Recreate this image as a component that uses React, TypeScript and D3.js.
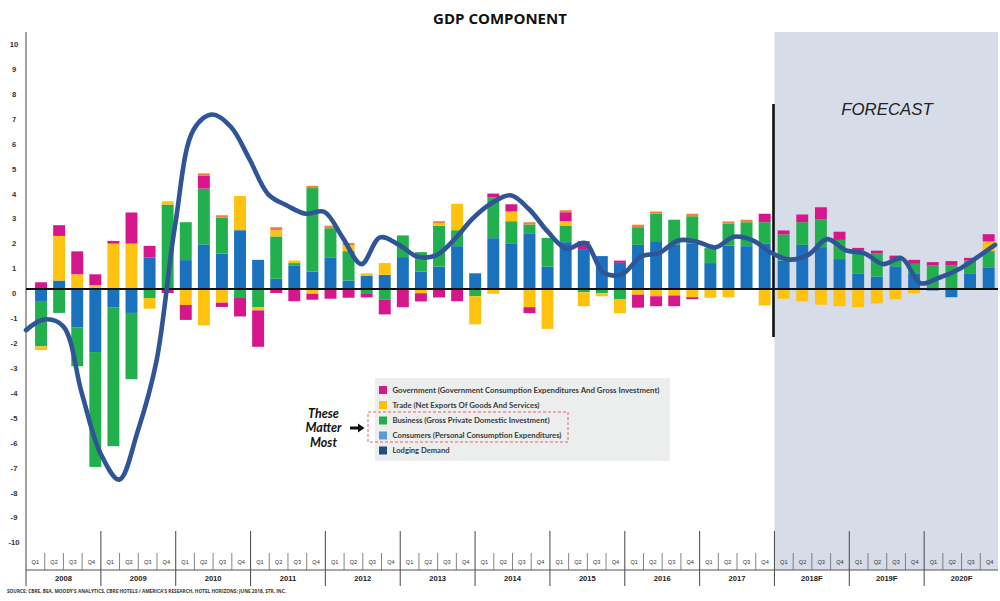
import React from "react";
import * as d3 from "d3";

// ---------- DATA ----------
const years = ["2008", "2009", "2010", "2011", "2012", "2013", "2014", "2015", "2016", "2017", "2018F", "2019F", "2020F"];
const quarters = ["Q1", "Q2", "Q3", "Q4"];
const yTicks = [-10, -9, -8, -7, -6, -5, -4, -3, -2, -1, 0, 1, 2, 3, 4, 5, 6, 7, 8, 9, 10];

// bars as drawn in the picture: 41 historical bars, then 12 forecast bars
const HIST_BARS = 41;

const consumers = [
  -0.48, 0.34, -1.55, -2.53, -0.73, -0.96, 1.27, 0, 1.16, 1.79, 1.42, 2.36, 1.17, 0.41, 0.93, 0.7, 1.25, 0.34, 0.54, 0.57, 1.28,
  0.7, 0.9, 1.72, 0.63, 2.04, 1.81, 2.21, 0.9, 1.88, 1.57, 1.32, 1.05, 1.77, 1.92, 1.77, 1.81, 1.04, 1.75, 1.72, 1.81,
  1.14, 1.77, 1.68, 1.2, 0.61, 0.5, 0.91, 0.63, -0.06, -0.33, 0.63, 0.87,
];
const business = [
  -1.82, -0.96, -1.55, -4.61, -5.58, -2.66, -0.36, 3.39, 1.52, 2.24, 1.44, -0.36, -0.74, 1.7, 0.11, 3.35, 1.19, 1.18, -0.17, -0.43, 0.87,
  0.78, 1.64, 0.64, -0.29, 1.64, 0.91, 0.38, 1.15, 0.67, -0.13, -0.17, -0.42, 0.71, 1.1, 1.01, 1.11, 0.6, 0.87, 0.96, 0.87,
  1.05, 0.91, 1.11, 0.77, 0.94, 0.94, 0.3, 0.38, 0.94, 0.94, 0.51, 0.65,
];
const trade = [
  -0.15, 1.79, 0.59, 0.16, 1.82, 1.82, -0.43, 0.13, -0.64, -1.46, -0.55, 1.37, -0.12, 0.24, 0.1, -0.19, 0, 0.23, 0.09, 0.47, 0,
  -0.17, 0.09, 1.06, -1.13, -0.19, 0.39, -0.73, -1.6, 0.17, -0.56, -0.12, -0.55, -0.23, -0.29, -0.26, -0.33, -0.35, -0.33, 0, -0.66,
  -0.39, -0.5, -0.63, -0.69, -0.73, -0.58, -0.41, -0.17, 0, 0, 0, 0.39,
];
const government = [
  0.27, 0.43, 0.92, 0.43, 0.11, 1.25, 0.46, -0.16, -0.6, 0.51, -0.17, -0.74, -1.46, -0.16, -0.49, -0.24, -0.39, -0.35, -0.17, -0.59, -0.73,
  -0.33, -0.34, -0.49, 0, 0.15, 0.29, -0.24, 0, 0.36, 0.35, 0, 0.09, -0.52, -0.4, -0.43, -0.08, 0, 0, 0, 0.34,
  0.16, 0.31, 0.49, 0.33, 0.1, 0.1, 0.13, 0.16, 0.14, 0.18, 0.11, 0.29,
];
const other = [
  0, 0, 0, 0, 0, 0, 0, 0, 0, 0.1, 0.1, 0, 0, 0.13, 0, 0.09, 0.1, 0.1, 0, 0, 0,
  0, 0.09, 0, 0, 0, 0, 0.09, 0, 0.08, 0, 0, 0, 0.1, 0.09, 0, 0.1, 0, 0.09, 0.1, 0,
  0, 0, 0, 0, 0, 0, 0, 0, 0, 0, 0, 0,
];
const lodgingDemand = [
  -1.65, -1.22, -1.5, -4.2, -6.6, -7.65, -5.7, -2.9, 2.55, 6.4, 7.0, 6.5, 5.2, 3.8, 3.35, 3.02, 3.1, 2.05, 1.0, 2.07, 1.78,
  1.3, 1.35, 2.0, 2.85, 3.45, 3.76, 3.2, 2.3, 1.62, 1.85, 0.65, 0.6, 1.3, 1.45, 1.95, 1.9, 1.67, 2.1, 1.95, 1.45,
  1.18, 1.38, 2.0, 1.55, 1.43, 1.0, 1.23, 0.23, 0.45, 0.77, 1.25, 1.77,
];

const seriesKeys = ["consumers", "business", "trade", "government", "other"];
const seriesColors: Record<string, string> = {
  consumers: "#1a72bf",
  business: "#22b04e",
  trade: "#ffc20e",
  government: "#d6168b",
  other: "#f0803a",
};

const legendLabels = [
  "Government (Government Consumption Expenditures And Gross Investment)",
  "Trade (Net Exports Of Goods And Services)",
  "Business (Gross Private Domestic Investment)",
  "Consumers (Personal Consumption Expenditures)",
  "Lodging Demand",
];
const legendColors = ["#d6168b", "#ffc000", "#22ad4d", "#5b9bd5", "#1f4e79"];
const legendWidths = [267, 147, 157, 169, 57];

const emphasisWords = ["These", "Matter", "Most"];
const titleText = "GDP COMPONENT";
const forecastText = "FORECAST";
const sourceText =
  "SOURCE: CBRE, BEA, MOODY'S ANALYTICS, CBRE HOTELS / AMERICA'S RESEARCH, HOTEL HORIZONS: JUNE 2018, STR, INC.";

// ---------- CHART ----------
export default function App() {
  const W = 1000;
  const H = 601;
  const axisX = 26;
  const rightX = 998;
  const plotTop = 32;
  const axisLineY = 570;

  const y = d3.scaleLinear().domain([-10, 10]).range([538.2, 39.8]);

  const histIdx = d3.range(HIST_BARS);
  const fcIdx = d3.range(HIST_BARS, consumers.length);
  const xHist = d3.scaleBand<number>().domain(histIdx).range([32, 773.7]).paddingInner(0.34).paddingOuter(0.17);
  const xFc = d3.scaleBand<number>().domain(fcIdx).range([774.3, 998]).paddingInner(0.36).paddingOuter(0.18);
  const barX = (i: number) => (i < HIST_BARS ? (xHist(i) as number) : (xFc(i) as number));
  const barW = (i: number) => (i < HIST_BARS ? xHist.bandwidth() : xFc.bandwidth());

  const rows = consumers.map((_, i) => ({
    consumers: consumers[i],
    business: business[i],
    trade: trade[i],
    government: government[i],
    other: other[i],
  }));
  const stacked = d3.stack<any>().keys(seriesKeys).offset(d3.stackOffsetDiverging)(rows);

  const qKeys = years.flatMap((yr) => quarters.map((q) => `${yr}|${q}`));
  const xQ = d3.scaleBand<string>().domain(qKeys).range([axisX, 999]);
  const qStep = xQ.step();

  const xLine = d3.scalePoint<number>().domain(d3.range(lodgingDemand.length)).range([26, 995]);
  const lineGen = d3
    .line<number>()
    .x((_, i) => xLine(i) as number)
    .y((d) => y(d))
    .curve(d3.curveCatmullRom.alpha(0.5));

  const forecastStart = xQ(`2018F|Q1`) as number;
  const zeroY = y(0);

  const legendX = 375;
  const legendY = 378;
  const rowYs = [390, 405, 420.5, 435.5, 450.5];

  return (
    <svg
      width={W}
      height={H}
      viewBox={`0 0 ${W} ${H}`}
      style={{ position: "absolute", left: 0, top: 0, background: "#fff" }}
      fontFamily="'Liberation Sans', Arial, sans-serif"
    >
      <rect x={0} y={0} width={W} height={H} fill="#ffffff" />

      {/* forecast shading */}
      <rect x={forecastStart} y={plotTop} width={rightX - forecastStart} height={axisLineY - plotTop} fill="#d6dde8" />

      {/* title */}
      <text x={500} y={24} textAnchor="middle" fontFamily="'Open Sans', sans-serif" fontWeight={700} fontSize={15} fill="#111">
        {titleText}
      </text>

      {/* y axis line */}
      <line x1={axisX} x2={axisX} y1={plotTop} y2={586} stroke="#8c8c8c" strokeWidth={1.6} />

      {/* y tick labels */}
      {yTicks.map((t) => (
        <text key={t} x={14} y={y(t) + 7.2} textAnchor="middle" fontWeight={700} fontSize={7.6} fill="#333">
          {t}
        </text>
      ))}

      {/* bars */}
      {stacked.map((s) => (
        <g key={s.key} fill={seriesColors[s.key]}>
          {s.map((d, i) => {
            const h = Math.abs(y(d[0]) - y(d[1]));
            if (h < 0.01) return null;
            return <rect key={i} x={barX(i)} y={Math.min(y(d[0]), y(d[1]))} width={barW(i)} height={h} />;
          })}
        </g>
      ))}

      {/* zero line */}
      <line x1={axisX} x2={rightX} y1={zeroY} y2={zeroY} stroke="#111" strokeWidth={2} />

      {/* forecast divider */}
      <line x1={773.5} x2={773.5} y1={104} y2={337} stroke="#111" strokeWidth={2.6} />
      <text x={887} y={114.5} textAnchor="middle" fontStyle="italic" fontSize={16.8} fill="#222">
        {forecastText}
      </text>

      {/* lodging demand line */}
      <path d={lineGen(lodgingDemand) as string} fill="none" stroke="#2f5597" strokeWidth={4.6} strokeLinecap="round" strokeLinejoin="round" />

      {/* category axis */}
      <line x1={axisX} x2={rightX} y1={axisLineY} y2={axisLineY} stroke="#555" strokeWidth={1.2} />
      {qKeys.map((k, i) => {
        const x0 = xQ(k) as number;
        const q = k.split("|")[1];
        return (
          <g key={k}>
            {i % 4 !== 0 && <line x1={x0} x2={x0} y1={553} y2={axisLineY} stroke="#666" strokeWidth={0.8} />}
            <text x={x0 + qStep / 2} y={564} textAnchor="middle" fontSize={5.6} fill="#333">
              {q}
            </text>
          </g>
        );
      })}
      {years.map((yr, i) => {
        const x0 = xQ(`${yr}|Q1`) as number;
        return (
          <g key={yr}>
            {i > 0 && <line x1={x0} x2={x0} y1={531} y2={586} stroke="#555" strokeWidth={1.1} />}
            <text x={x0 + qStep * 2} y={580.5} textAnchor="middle" fontWeight={700} fontSize={7.6} fill="#222">
              {yr}
            </text>
          </g>
        );
      })}

      {/* source */}
      <text x={7} y={593} fontFamily="'Open Sans', sans-serif" fontWeight={700} fontSize={5.2} fill="#333" textLength={279} lengthAdjust="spacingAndGlyphs">
        {sourceText}
      </text>

      {/* legend */}
      <rect x={legendX} y={legendY} width={295} height={83} fill="#eceeee" />
      {legendLabels.map((lab, i) => (
        <g key={lab}>
          <rect x={379} y={rowYs[i] - 4} width={8} height={8} fill={legendColors[i]} />
          <text
            x={392.5}
            y={rowYs[i] + 2.8}
            fontFamily="Lato, 'Open Sans', sans-serif"
            fontWeight={700}
            fontSize={8.2}
            fill="#3a3a3a"
            textLength={legendWidths[i]}
            lengthAdjust="spacingAndGlyphs"
          >
            {lab}
          </text>
        </g>
      ))}
      <rect x={368} y={412} width={200} height={30} fill="none" stroke="#e8626b" strokeWidth={1} strokeDasharray="3,2" />

      {/* emphasis */}
      {emphasisWords.map((w, i) => (
        <text
          key={w}
          x={323.5}
          y={417.5 + i * 14.7}
          textAnchor="middle"
          fontFamily="Lato, 'Open Sans', sans-serif"
          fontWeight={700}
          fontStyle="italic"
          fontSize={12.5}
          fill="#111"
        >
          {w}
        </text>
      ))}
      <line x1={350} x2={359} y1={428} y2={428} stroke="#111" strokeWidth={3} />
      <path d="M358,423.5 L364.5,428 L358,432.5 Z" fill="#111" />
    </svg>
  );
}
